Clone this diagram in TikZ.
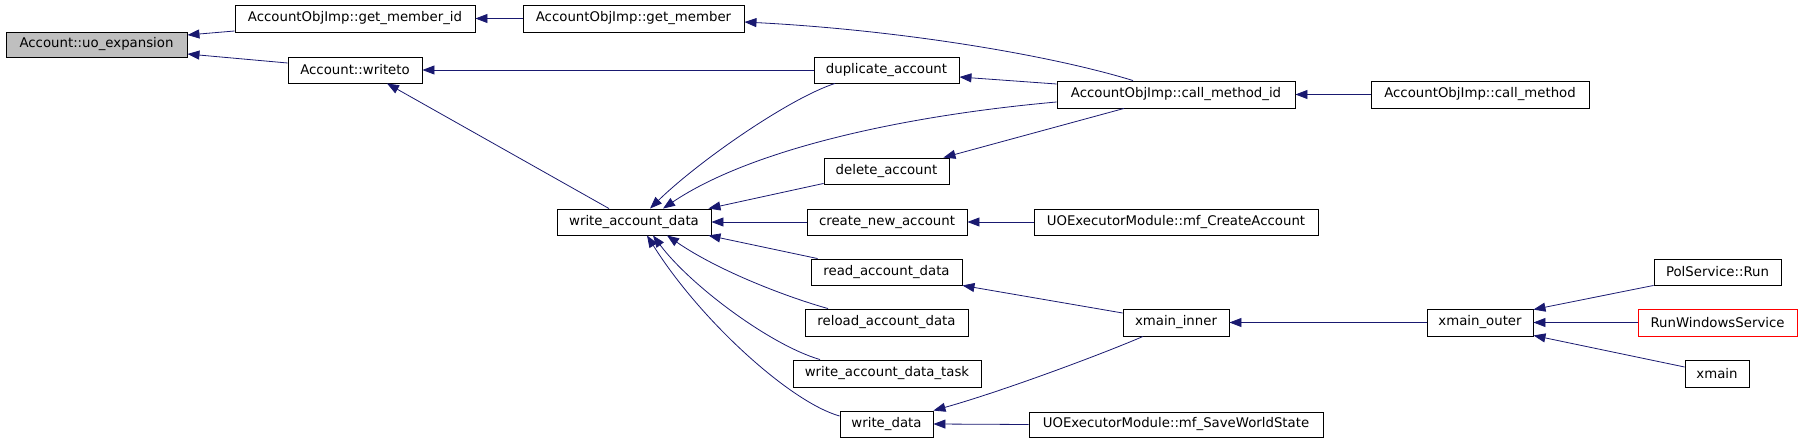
\documentclass[tikz,border=0pt]{standalone}
\usepackage{fontspec}
\setmainfont{DejaVu Sans}
\usetikzlibrary{arrows.meta,calc}
\definecolor{edgeblue}{RGB}{25,25,112}
\definecolor{rootgrey}{RGB}{191,191,191}
\tikzset{
  fn/.style={draw=black, line width=0.9pt, fill=white, inner sep=0pt, minimum height=26pt,
    font=\fontsize{13.3}{15}\selectfont, anchor=center},
  edge/.style={draw=edgeblue, line width=0.8pt, -{Triangle[length=12pt,width=9pt]}},
}
\begin{document}
\begin{tikzpicture}[x=1pt,y=-1pt]
\useasboundingbox (0,0) rectangle (1803,443);
% nodes
\node[fn, fill=rootgrey, minimum width=181pt, minimum height=25pt] (uo) at (96.5,44.5) {Account::uo\_expansion};
\node[fn, minimum width=240pt, minimum height=27pt] (gmid) at (355,18.5) {AccountObjImp::get\_member\_id};
\node[fn, minimum width=134pt] (writeto) at (355,70) {Account::writeto};
\node[fn, minimum width=221pt, minimum height=27pt] (gm) at (633.5,18.5) {AccountObjImp::get\_member};
\node[fn, minimum width=145pt] (dup) at (886.5,70) {duplicate\_account};
\node[fn, minimum width=238pt, minimum height=27pt] (cmid) at (1176,94.5) {AccountObjImp::call\_method\_id};
\node[fn, minimum width=218pt, minimum height=27pt] (cm) at (1480,94.5) {AccountObjImp::call\_method};
\node[fn, minimum width=125pt] (del) at (886.5,171) {delete\_account};
\node[fn, minimum width=154pt] (wad) at (634,222) {write\_account\_data};
\node[fn, minimum width=160pt] (cna) at (887,222) {create\_new\_account};
\node[fn, minimum width=284pt] (mfca) at (1176,222) {UOExecutorModule::mf\_CreateAccount};
\node[fn, minimum width=151pt] (rad) at (886.5,272) {read\_account\_data};
\node[fn, minimum width=163pt, minimum height=27pt] (reload) at (886.5,322.5) {reload\_account\_data};
\node[fn, minimum width=188pt, minimum height=27pt] (wadt) at (887,373.5) {write\_account\_data\_task};
\node[fn, minimum width=93pt] (wd) at (886.5,424) {write\_data};
\node[fn, minimum width=294pt, minimum height=25pt] (mfsws) at (1176,424.5) {UOExecutorModule::mf\_SaveWorldState};
\node[fn, minimum width=106pt, minimum height=27pt] (xinner) at (1176,322.5) {xmain\_inner};
\node[fn, minimum width=106pt, minimum height=27pt] (xouter) at (1480,322.5) {xmain\_outer};
\node[fn, minimum width=127pt] (pol) at (1717.5,272) {PolService::Run};
\node[fn, draw=red, minimum width=159pt, minimum height=27pt] (rws) at (1717.5,322.5) {RunWindowsService};
\node[fn, minimum width=64pt, minimum height=27pt] (xmain) at (1717,373.5) {xmain};
% edges (caller -> callee, arrowhead at callee)
\draw[edge] ([yshift=-12.5pt]gmid.west) -- ([yshift=9.5pt]uo.east);
\draw[edge] ([yshift=7pt]writeto.west) -- ([yshift=-9.5pt]uo.east);
\draw[edge] (gm.west) -- (gmid.east);
\draw[edge] (dup.west) -- (writeto.east);
\draw[edge] ([xshift=-25pt]wad.north) -- ([xshift=32pt]writeto.south);
\draw[edge] ([xshift=-43pt]cmid.north) .. controls (1050,55) and (900,30) .. ([yshift=-3.5pt]gm.east);
\draw[edge] ([yshift=10.5pt]cmid.west) -- ([yshift=-7pt]dup.east);
\draw[edge] (cm.west) -- (cmid.east);
\draw[edge] ([xshift=-51.5pt]dup.south) .. controls (790,98) and (700,160) .. ([xshift=16pt]wad.north);
\draw[edge] ([yshift=-7.5pt]cmid.west) .. controls (900,116) and (750,150) .. ([xshift=29pt]wad.north);
\draw[edge] ([xshift=-52pt]cmid.south) -- ([xshift=-6pt]del.north east);
\draw[edge] ([yshift=1pt]del.south west) -- ([xshift=-3pt]wad.north east);
\draw[edge] (cna.west) -- (wad.east);
\draw[edge] (mfca.west) -- (cna.east);
\draw[edge] ([xshift=7pt]rad.north west) -- ([xshift=-3pt]wad.south east);
\draw[edge] ([xshift=-58.5pt]reload.north) .. controls (790,298) and (720,272) .. ([xshift=33pt]wad.south);
\draw[edge] ([xshift=-67pt]wadt.north) .. controls (770,345) and (690,285) .. ([xshift=19pt]wad.south);
\draw[edge] ([yshift=8pt]wd.west) .. controls (790,402) and (700,320) .. ([xshift=13pt]wad.south);
\draw[edge] ([yshift=9.5pt]xinner.west) -- (rad.south east);
\draw[edge] ([xshift=-33pt]xinner.south) .. controls (1100,355) and (1000,392) .. (wd.north east);
\draw[edge] (mfsws.west) -- (wd.east);
\draw[edge] (xouter.west) -- (xinner.east);
\draw[edge] (pol.south west) -- ([yshift=-1pt]xouter.north east);
\draw[edge] (rws.west) -- (xouter.east);
\draw[edge] ([yshift=6.5pt]xmain.west) -- ([yshift=1pt]xouter.south east);
\end{tikzpicture}
\end{document}
